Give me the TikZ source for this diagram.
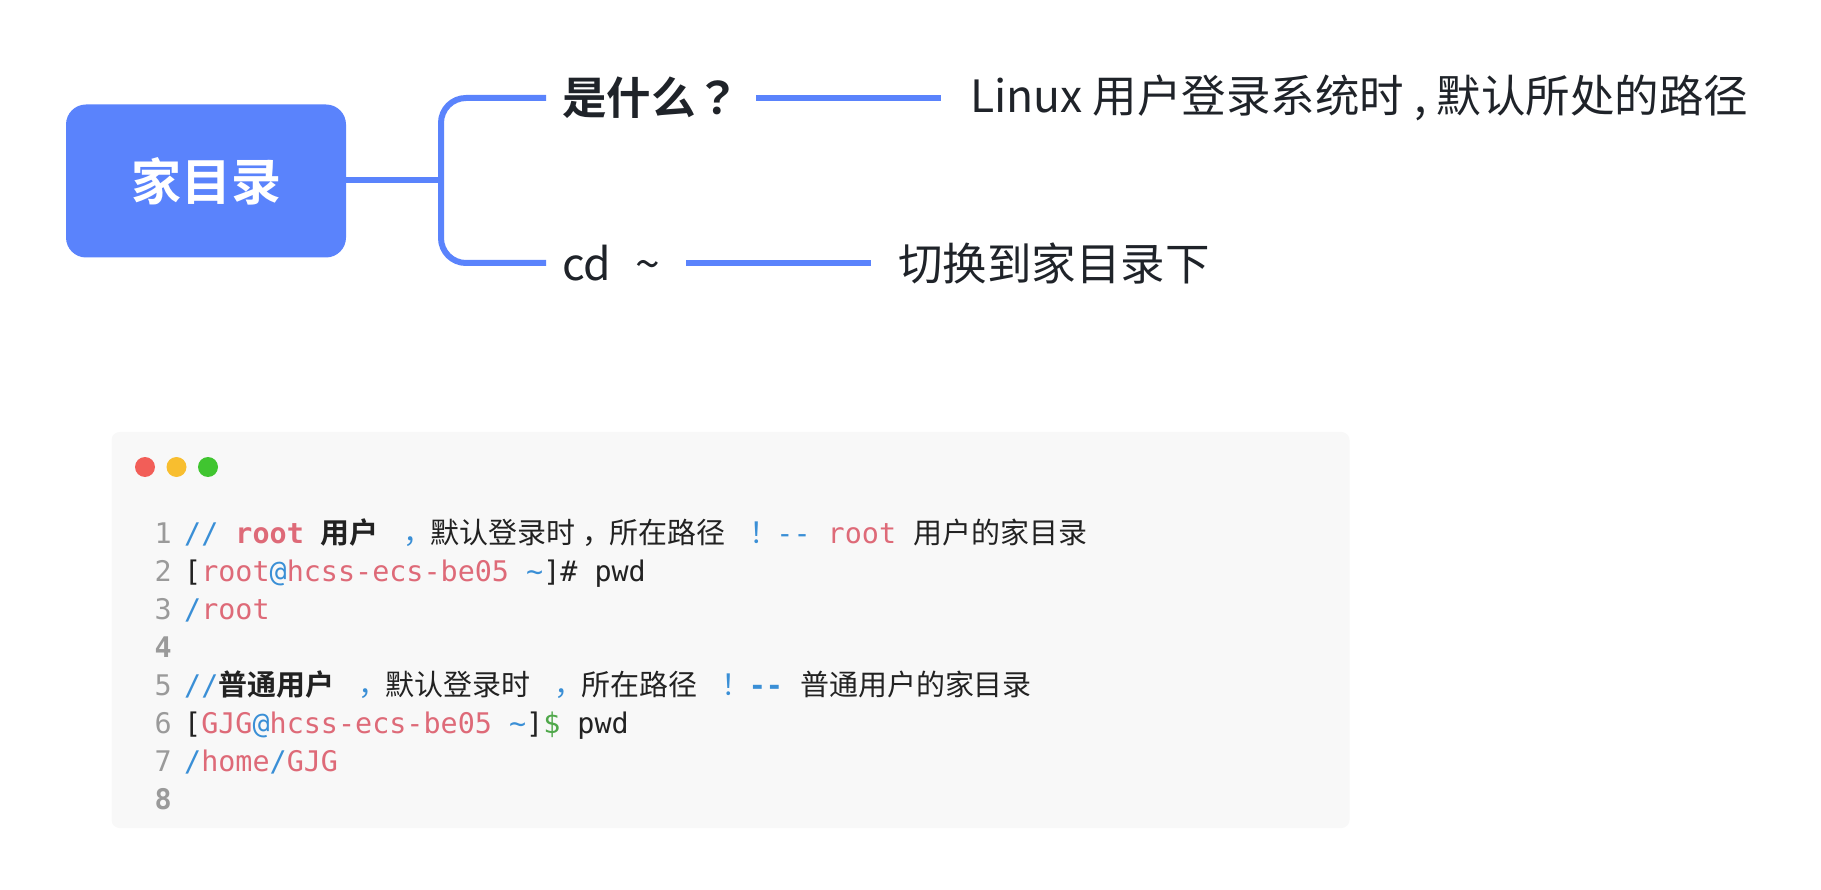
\documentclass[tikz,border=0pt]{standalone}
\usepackage{fontspec}
\setmainfont{Noto Sans CJK SC}[BoldFont={Noto Sans CJK SC Bold}]
\setmonofont{DejaVu Sans Mono}
\newfontfamily\zhcode{Noto Sans CJK SC}[Scale=1.02,BoldFont={Noto Sans CJK SC Bold}]
\newfontfamily\jpfont{Noto Sans CJK JP}[BoldFont={Noto Sans CJK JP Bold}]
\usepackage{xcolor}
\usepackage{tikz}

\definecolor{mapblue}{HTML}{5A83FC}
\definecolor{inkdark}{HTML}{1F2329}
\definecolor{codebg}{HTML}{F8F8F8}
\definecolor{codeink}{HTML}{222222}
\definecolor{codered}{HTML}{DE6A78}
\definecolor{codeblue}{HTML}{3A8FD6}
\definecolor{codegreen}{HTML}{4FA84A}
\definecolor{codegray}{HTML}{9A9A9A}
\definecolor{dotred}{HTML}{F25E58}
\definecolor{dotyellow}{HTML}{F8BE2F}
\definecolor{dotgreen}{HTML}{40C530}

\newcommand{\zh}[1]{{\zhcode #1}}
\newcommand{\hp}[1]{\makebox[17.1pt][l]{\kern7pt\rlap{\zh{#1}}}}
\newcommand{\cb}[1]{\textcolor{codeblue}{#1}}
\newcommand{\rd}[1]{\textcolor{codered}{#1}}

\begin{document}
\begin{tikzpicture}[x=1pt,y=-1pt,
  root/.style={fill=mapblue,rounded corners=20,minimum width=280,minimum height=153,
    text=white,font=\fontsize{50}{60}\selectfont\bfseries},
  topic/.style={anchor=west,inner xsep=16,inner ysep=0,text=inkdark,font=\fontsize{44.5}{54}\selectfont},
  branch/.style={draw=mapblue,line width=6},
  lineno/.style={anchor=base east,inner sep=0,text=codegray,font=\ttfamily\fontsize{28.4}{38}\selectfont},
  codeline/.style={anchor=base west,inner sep=0,text=codeink,font=\ttfamily\fontsize{28.4}{38}\selectfont}]
\useasboundingbox (0,0) rectangle (1821,890);
% mind map
\node[root] (home) at (206,181) {家目录};
\coordinate (fork) at (441,180);
\node[topic] (what) at (546,98) {\textbf{是什么{\jpfont ？}}};
\node[topic] (ans1) at (954,98) {Linux 用户登录系统时 , 默认所处的路径};
\node[topic] (cd) at (546,263) {cd \kern14pt\textasciitilde};
\node[topic] (ans2) at (882,263) {切换到家目录下};
\draw[branch] (home.east|-fork)--(fork);
\draw[branch,rounded corners=25] (what.west)-|(fork)|-(cd.west);
\draw[branch,shorten >=13] (what)--(ans1);
\draw[branch,shorten <=10,shorten >=11] (cd)--(ans2);
% code block
\fill[codebg,rounded corners=8] (111.5,432) rectangle (1349.5,828);
\fill[dotred] (145,467) circle (10);
\fill[dotyellow] (176.5,467) circle (10);
\fill[dotgreen] (208,467) circle (10);
\draw(172,543)node[lineno](n1){1}
(172,581)node[lineno](n2){2}
(172,619)node[lineno](n3){3}
(172,657)node[lineno](n4){\textbf{4}}
(172,695)node[lineno](n5){5}
(172,733)node[lineno](n6){6}
(172,771)node[lineno](n7){7}
(172,809)node[lineno](n8){\textbf{8}};
\draw(184,543)node[codeline](l1){\cb{// }\textbf{\rd{root}} \zh{\textbf{用户}} \cb{\hp{，}} \zh{默认登录时}\hp{，} \zh{所在路径} \cb{\hp{！}} \cb{--} \rd{root} \zh{用户的家目录}}
(184,581)node[codeline](l2){[\rd{root}\cb{@}\rd{hcss-ecs-be05} \cb{\textasciitilde}]\# pwd}
(184,619)node[codeline](l3){\cb{/}\rd{root}}
(184,695)node[codeline](l5){\cb{//}\zh{\textbf{普通用户}} \cb{\hp{，}} \zh{默认登录时} \cb{\hp{，}} \zh{所在路径} \cb{\hp{！}} \cb{\textbf{--}} \zh{普通用户的家目录}}
(184,733)node[codeline](l6){[\rd{GJG}\cb{@}\rd{hcss-ecs-be05} \cb{\textasciitilde}]\textcolor{codegreen}{\$} pwd}
(184,771)node[codeline](l7){\cb{/}\rd{home}\cb{/}\rd{GJG}};
\end{tikzpicture}
\end{document}
